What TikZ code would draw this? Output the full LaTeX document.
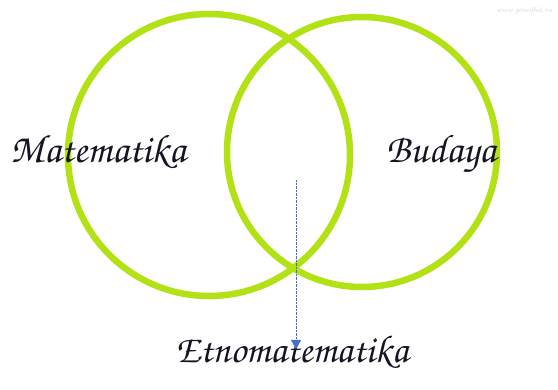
\documentclass[tikz,border=0pt]{standalone}
\usepackage{tikz}
\usetikzlibrary{arrows.meta,positioning}
\definecolor{hijau}{RGB}{178,226,22}
\definecolor{biru}{RGB}{70,110,210}
\definecolor{tinta}{RGB}{20,20,35}
\newcommand{\corsiva}{\fontencoding{T1}\fontfamily{pzc}\fontseries{mb}\fontshape{it}\selectfont}
\tikzset{
    lingkaran/.style={
        circle,draw=hijau,line width=6.5pt,
        inner sep=0pt,minimum size=#1
    },
    judul/.style={
        inner sep=0pt,anchor=base,text=tinta,
        font=\corsiva\fontsize{40}{44}\selectfont
    },
    >={Triangle[width=10pt,length=9pt]}
}
\begin{document}
\begin{tikzpicture}[x=1pt,y=1pt]
\useasboundingbox (0,0) rectangle (558,389);
\foreach \name/\x/\y/\d in {kiri/209/234/282,kanan/362/237/270}
    \node[lingkaran=\d pt] (\name) at (\x,\y) {};
\node[judul] (matematika) at (98,226) {Matematika};
\node[judul] (budaya) at (441,226) {Budaya};
\node[judul,font=\corsiva\fontsize{39}{42}\selectfont] (etno) at (292,27) {Etnomatematika};
\node[text=gray!35,font=\itshape\fontsize{7}{8}\selectfont,anchor=east] (tanda) at (556,378) {www.proofhd.ru};
\coordinate (irisan) at (296,209);
\coordinate (ujung) at (296,40);
\draw[->,biru,densely dotted,thin] (irisan) -- (ujung);
\end{tikzpicture}
\end{document}
